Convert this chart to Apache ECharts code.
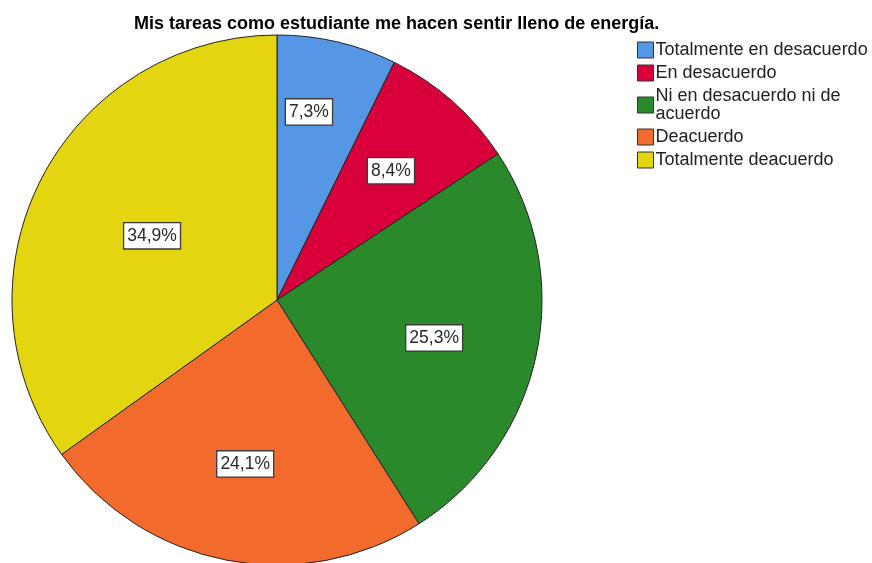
<!DOCTYPE html>
<html>
<head>
<meta charset="utf-8">
<script src="https://cdn.jsdelivr.net/npm/echarts@6/dist/echarts.min.js"></script>
<style>
  html, body { margin: 0; padding: 0; background: #fff; }
  #chart { width: 872px; height: 563px; }
</style>
</head>
<body>
<div id="chart"></div>
<script>
// Response categories and their percentages
const categories = [
  'Totalmente en desacuerdo',
  'En desacuerdo',
  'Ni en desacuerdo ni de acuerdo',
  'Deacuerdo',
  'Totalmente deacuerdo'
];
const percentages = [7.3, 8.4, 25.3, 24.1, 34.9];
const sliceColors = ['#5597e4', '#d8003a', '#2a8a2b', '#f26a2c', '#e3d50f'];
// Placement of each value label: share of the pie radius and a small angular nudge (degrees)
const labelRadiusShare = [0.72, 0.65, 0.61, 0.63, 0.53];
const labelAngleNudge = [-3.5, 0, 1.5, 0, 0];

const FONT = '"Liberation Sans", Arial, sans-serif';
const CENTER = [277, 300];
const RADIUS = 265;

const chart = echarts.init(document.getElementById('chart'));

const total = percentages.reduce((a, b) => a + b, 0);
const midAngles = [];
let acc = 0;
percentages.forEach((v, i) => {
  midAngles.push((acc + v / 2) / total * 2 * Math.PI + labelAngleNudge[i] * Math.PI / 180);
  acc += v;
});

chart.setOption({
  animation: false,
  title: {
    text: 'Mis tareas como estudiante me hacen sentir lleno de energía.',
    left: 129,
    top: 10,
    textStyle: { fontFamily: FONT, fontSize: 18, fontWeight: 'bold', color: '#000' }
  },
  legend: {
    orient: 'vertical',
    left: 632,
    top: 36,
    icon: 'rect',
    itemWidth: 16,
    itemHeight: 16,
    itemGap: 5,
    data: categories,
    itemStyle: { borderColor: '#333', borderWidth: 1 },
    textStyle: {
      fontFamily: FONT, fontSize: 18, color: '#222',
      width: 222, overflow: 'break', lineHeight: 18, padding: [0, 0, 0, -3]
    }
  },
  series: [{
    type: 'pie',
    center: CENTER,
    radius: RADIUS,
    startAngle: 90,
    clockwise: true,
    data: categories.map((name, i) => ({
      name: name,
      value: percentages[i],
      itemStyle: { color: sliceColors[i] }
    })),
    itemStyle: { borderColor: '#222', borderWidth: 1 },
    label: {
      show: true,
      position: 'inside',
      formatter: p => p.value.toFixed(1).replace('.', ',') + '%',
      fontFamily: FONT,
      fontSize: 17.5,
      color: '#2a2a2a',
      backgroundColor: '#fff',
      borderColor: '#3a3a3a',
      borderWidth: 1.3,
      padding: [4, 3, 3, 3]
    },
    labelLayout: p => {
      const i = p.dataIndex;
      const a = midAngles[i];
      const r = RADIUS * labelRadiusShare[i];
      return {
        x: CENTER[0] + r * Math.sin(a),
        y: CENTER[1] - r * Math.cos(a),
        align: 'center',
        verticalAlign: 'middle'
      };
    },
    emphasis: { disabled: true }
  }]
});
</script>
</body>
</html>
